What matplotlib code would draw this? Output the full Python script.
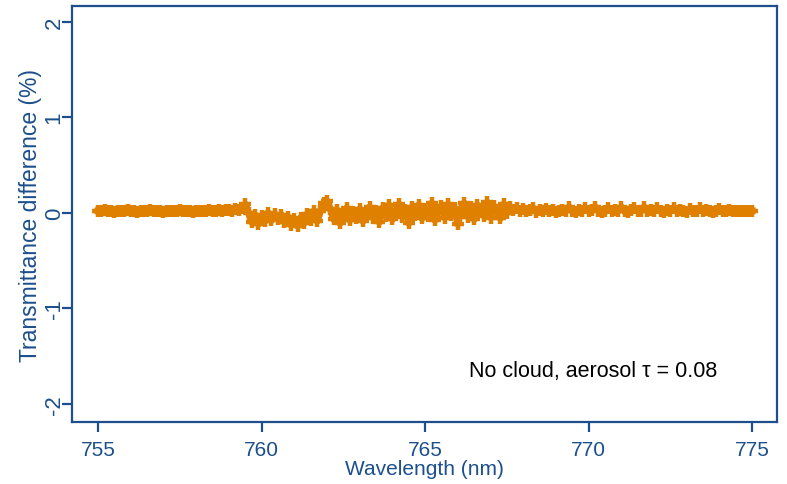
import matplotlib
matplotlib.use("Agg")
import matplotlib.pyplot as plt
import numpy as np

plt.rcParams['font.family'] = ['Liberation Sans', 'DejaVu Sans']

wl_start = 755.0
wl_step = 0.1
diff = [
    # 755.0 - 759.3 flat
    0.02, 0.02, 0.03, 0.02, 0.02, 0.01, 0.02, 0.02, 0.02, 0.03,
    0.02, 0.02, 0.01, 0.02, 0.02, 0.02, 0.03, 0.02, 0.02, 0.02,
    0.01, 0.02, 0.02, 0.02, 0.02, 0.03, 0.02, 0.02, 0.02, 0.01,
    0.02, 0.02, 0.02, 0.02, 0.03, 0.02, 0.02, 0.03, 0.02, 0.03,
    0.03, 0.02, 0.04, 0.03,
    # 759.4 - 761.7 dip region
    0.05, 0.09, 0.0, -0.10, -0.02, -0.12, -0.03, -0.09, 0.0, -0.08,
    -0.01, -0.07, -0.02, -0.10, -0.04, -0.13, -0.07, -0.14, -0.05, -0.11,
    -0.01, -0.08, 0.02, -0.09,
    # 761.8 - 767.6 noisy
    0.02, 0.10, 0.12, 0.04, -0.07, 0.03, -0.11, -0.04, 0.05, -0.08,
    0.01, -0.06, 0.04, -0.09, -0.02, 0.06, -0.05, 0.02, -0.10, 0.05,
    -0.03, 0.08, -0.07, 0.01, 0.09, -0.04, 0.03, -0.11, 0.06, -0.02,
    0.08, -0.06, 0.04, -0.03, 0.10, -0.08, 0.02, 0.07, -0.05, 0.09,
    -0.02, 0.05, -0.12, 0.03, 0.10, -0.04, 0.06, -0.07, 0.08, 0.01,
    -0.03, 0.11, -0.05, 0.07, 0.02, -0.06, 0.09, 0.0, 0.06,
    # 767.7 - 775.0 mostly flat
    0.03, 0.05, 0.02, 0.04, 0.02, 0.03, 0.05, 0.01, 0.03, 0.02,
    0.04, 0.02, 0.03, 0.01, 0.02, 0.03, 0.02, 0.06, 0.02, 0.01,
    0.03, 0.02, 0.05, 0.02, 0.03, 0.06, 0.02, 0.01, 0.02, 0.05,
    0.02, 0.03, 0.02, 0.06, 0.02, 0.01, 0.03, 0.05, 0.02, 0.02,
    0.06, 0.02, 0.03, 0.02, 0.05, 0.02, 0.01, 0.03, 0.02, 0.05,
    0.02, 0.03, 0.02, 0.01, 0.04, 0.02, 0.02, 0.05, 0.02, 0.03,
    0.02, 0.01, 0.02, 0.04, 0.02, 0.02, 0.03, 0.02, 0.02, 0.02,
    0.02, 0.02, 0.02, 0.02,
]
wavelength = wl_start + wl_step * np.arange(len(diff))

x_ticks = [755, 760, 765, 770, 775]
y_ticks = [-2, -1, 0, 1, 2]
annotation = "No cloud, aerosol \u03c4 = 0.08"

navy = '#1c4f8c'
orange = '#e08000'

fig = plt.figure(figsize=(7.87, 4.85), dpi=100)
ax = fig.add_axes([71.6/787, 62/485, 705.4/787, 416/485])

ax.plot(wavelength, diff, linestyle='-', linewidth=5, marker='+',
        markersize=9, markeredgewidth=3.2, color=orange,
        solid_joinstyle='round')

ax.set_xlim(754.19, 775.76)
ax.set_ylim(-2.19, 2.164)
ax.set_xticks(x_ticks)
ax.set_yticks(y_ticks)
ax.set_yticklabels([str(v) for v in y_ticks], rotation=90, va='center')

for s in ax.spines.values():
    s.set_color(navy)
    s.set_linewidth(1.6)
ax.tick_params(colors=navy, labelcolor=navy, width=1.6, length=7)
ax.tick_params(axis='x', labelsize=15, pad=6)
ax.tick_params(axis='y', labelsize=16, pad=-2)

ax.set_xlabel('Wavelength (nm)', color=navy, fontsize=15, labelpad=0)
ax.set_ylabel('Transmittance difference (%)', color=navy, fontsize=16.5, labelpad=1)

ax.text(773.93, -1.65, annotation, fontsize=15.5, color='black', ha='right', va='center')

fig.savefig('out.png', dpi=100)
